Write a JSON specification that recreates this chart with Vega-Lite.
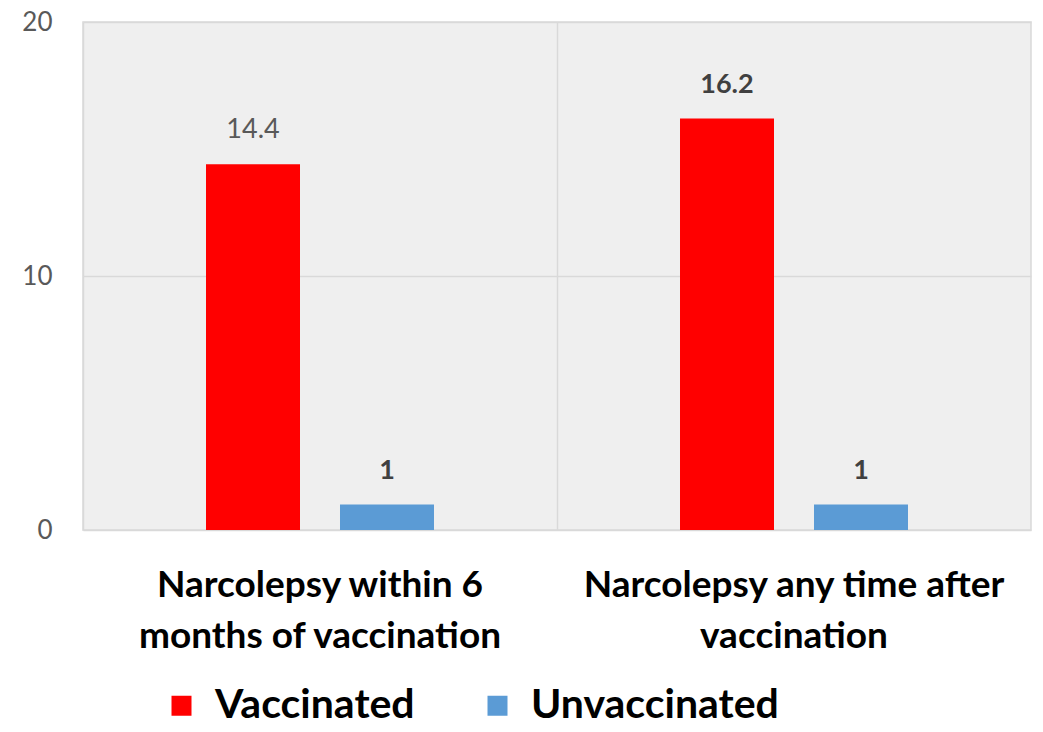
{
  "$schema": "https://vega.github.io/schema/vega-lite/v6.json",
  "width": 948,
  "height": 508,
  "autosize": "none",
  "padding": {"left": 83, "top": 22, "right": 12, "bottom": 202},
  "background": "white",
  "config": {
    "font": "Lato",
    "view": {"fill": "#efefef", "stroke": "#d9d9d9", "strokeWidth": 1.5}
  },
  "data": {
    "values": [
      {"category": "Narcolepsy within 6 months of vaccination", "group": "Vaccinated", "value": 14.4},
      {"category": "Narcolepsy within 6 months of vaccination", "group": "Unvaccinated", "value": 1},
      {"category": "Narcolepsy any time after vaccination", "group": "Vaccinated", "value": 16.2},
      {"category": "Narcolepsy any time after vaccination", "group": "Unvaccinated", "value": 1}
    ]
  },
  "encoding": {
    "x": {
      "field": "category",
      "type": "nominal",
      "sort": null,
      "scale": {"paddingInner": 0, "paddingOuter": 0},
      "axis": {
        "title": null,
        "labelAngle": 0,
        "domain": false,
        "ticks": false,
        "grid": true,
        "bandPosition": 0,
        "gridColor": "#d9d9d9",
        "gridWidth": 1.5,
        "labelFont": "Lato",
        "labelFontWeight": "bold",
        "labelFontSize": 37,
        "labelColor": "#000000",
        "labelLineHeight": 51,
        "labelPadding": 55,
        "labelBaseline": "middle",
        "labelLimit": 700,
        "labelExpr": "datum.value == 'Narcolepsy within 6 months of vaccination' ? ['Narcolepsy within 6', 'months of vaccination'] : ['Narcolepsy any time after', 'vaccination']"
      }
    },
    "xOffset": {
      "field": "group",
      "type": "nominal",
      "sort": ["Vaccinated", "Unvaccinated"],
      "scale": {"paddingInner": 0.2985, "paddingOuter": 0.918}
    },
    "y": {
      "field": "value",
      "type": "quantitative",
      "scale": {"domain": [0, 20], "nice": false},
      "axis": {
        "title": null,
        "values": [0, 10, 20],
        "domain": false,
        "ticks": false,
        "gridColor": "#d9d9d9",
        "gridWidth": 1.5,
        "labelFontSize": 26,
        "labelColor": "#595959",
        "labelPadding": 31,
        "labelFont": "Lato"
      }
    }
  },
  "layer": [
    {
      "mark": {"type": "bar"},
      "encoding": {
        "color": {
          "field": "group",
          "type": "nominal",
          "sort": ["Vaccinated", "Unvaccinated"],
          "scale": {"domain": ["Vaccinated", "Unvaccinated"], "range": ["#ff0000", "#5b9bd5"]},
          "legend": {
            "title": null,
            "orient": "none",
            "legendX": 78,
            "legendY": 663,
            "direction": "horizontal",
            "symbolType": "square",
            "symbolSize": 400,
            "symbolStrokeWidth": 0,
            "labelFont": "Lato",
            "labelFontSize": 41,
            "labelFontWeight": "bold",
            "labelColor": "#000000",
            "labelOffset": 13,
            "columnPadding": 62,
            "labelLimit": 400
          }
        }
      }
    },
    {
      "transform": [{"filter": "datum.value == 14.4"}],
      "mark": {"type": "text", "baseline": "bottom", "dy": -20, "fontSize": 27, "color": "#595959", "font": "Lato"},
      "encoding": {"text": {"field": "value", "type": "quantitative"}}
    },
    {
      "transform": [{"filter": "datum.value != 14.4"}],
      "mark": {"type": "text", "baseline": "bottom", "dy": -20, "fontSize": 27, "fontWeight": "bold", "color": "#404040", "font": "Lato"},
      "encoding": {"text": {"field": "value", "type": "quantitative"}}
    }
  ]
}
